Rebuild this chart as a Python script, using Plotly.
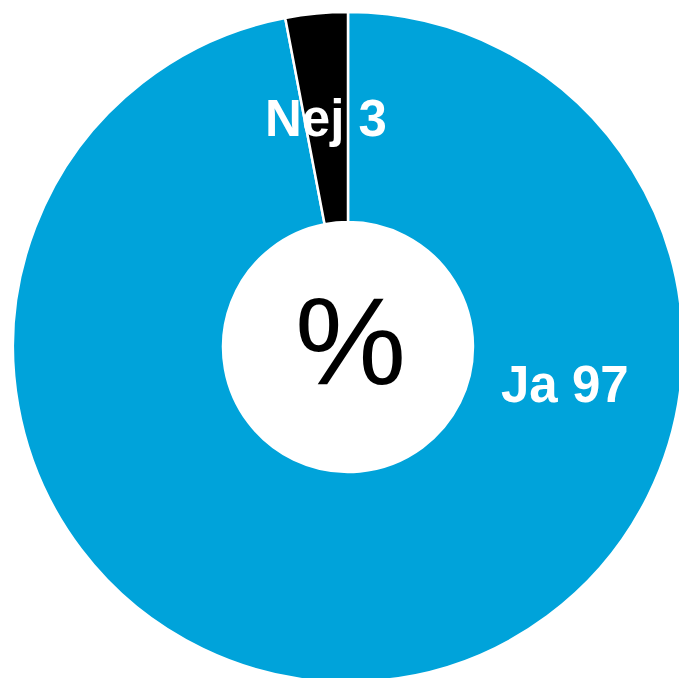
import plotly.graph_objects as go

labels = ["Ja", "Nej"]
values = [97, 3]
colors = ["#00A3DA", "#000000"]
center_text = "%"

W, H = 700, 700

fig = go.Figure()
fig.add_trace(go.Pie(
    labels=labels,
    values=values,
    sort=False,
    direction="clockwise",
    rotation=0,
    hole=0.373,
    marker=dict(colors=colors, line=dict(color="#FFFFFF", width=2.5)),
    textinfo="none",
    hoverinfo="label+value",
    domain=dict(x=[13 / W, 683 / W], y=[1 - 682 / H, 1 - 12 / H]),
    showlegend=False,
))

label_pos = {"Ja": (565 / W, 1 - 384 / H), "Nej": (326 / W, 1 - 118 / H)}
for lab, val in zip(labels, values):
    x, y = label_pos[lab]
    fig.add_annotation(
        x=x, y=y, xref="paper", yref="paper",
        text=f"<b>{lab} {val}</b>", showarrow=False,
        font=dict(family="Liberation Sans, Arial, sans-serif", size=51, color="#FFFFFF"),
        xanchor="center", yanchor="middle",
    )

fig.add_annotation(
    x=350 / W, y=1 - 340 / H, xref="paper", yref="paper",
    text=center_text, showarrow=False,
    font=dict(family="Liberation Sans, Arial, sans-serif", size=125, color="#000000"),
    xanchor="center", yanchor="middle",
)

fig.update_layout(
    width=W, height=H,
    margin=dict(l=0, r=0, t=0, b=0),
    paper_bgcolor="#FFFFFF",
    plot_bgcolor="#FFFFFF",
)

fig.write_html(
    "out.html",
    config={"displayModeBar": False},
    post_script="document.body.style.margin='0';document.body.style.overflow='hidden';",
)
